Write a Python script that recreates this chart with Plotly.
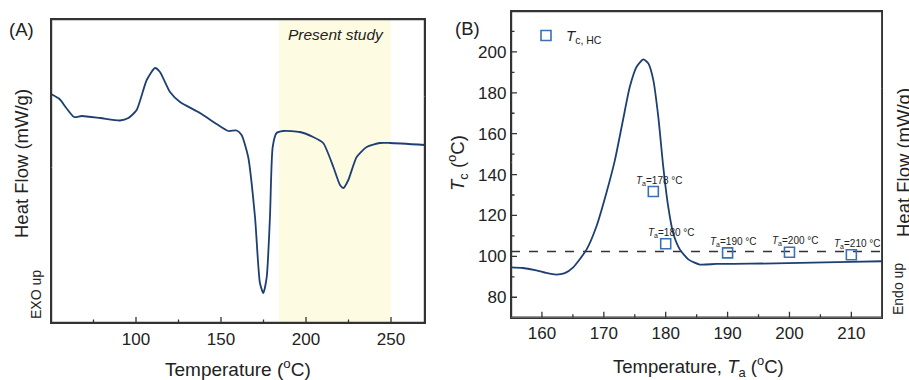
import plotly.graph_objects as go

# ---- Panel A: DSC curve (arbitrary heat-flow units, EXO up) ----
temp_a = [50, 55, 59, 63.6, 68, 79, 90.6, 95.5, 100.4, 106.3, 111.2, 114.1, 120, 125.9,
          137.6, 147.4, 154.3, 159.2, 162.1, 166, 170, 172.9, 174.9, 176.9, 178.8, 180.4,
          182.7, 186.6, 196.4, 204.2, 210.1, 216.1, 220, 222, 224.9, 229.8, 235.7, 243.5,
          249.4, 270]
hf_a = [4.58, 4.48, 4.30, 4.12, 4.14, 4.10, 4.05, 4.10, 4.26, 4.86, 5.10, 5.02, 4.62, 4.42,
        4.20, 3.98, 3.84, 3.85, 3.76, 3.32, 2.12, 0.80, 0.60, 0.92, 2.12, 3.52,
        3.80, 3.84, 3.82, 3.72, 3.60, 3.12, 2.76, 2.70, 2.86, 3.32, 3.52, 3.60,
        3.60, 3.56]
shade_range = [184, 250]
xa_major = [100, 150, 200, 250]
xa_minor = [75, 125, 175, 225]

# ---- Panel B: Tc,HC points and heat-flow curve ----
ta_pts = [178, 180, 190, 200, 210]
tc_pts = [131.7, 106.2, 101.7, 102.0, 100.8]
ta_labels = ["178", "180", "190", "200", "210"]
tc_ref = 102.4

temp_b = [155, 156.9, 159.1, 160.7, 162.3, 163.7, 165, 167.2, 168.8, 170.4, 171.8, 173.1,
          174.2, 175.3, 176.4, 177.2, 178.0, 178.8, 179.6, 180.4, 181.2, 182.3, 183.7,
          185.5, 188.2, 193.6, 201.7, 209.8, 215]
hf_b = [94.6, 94.3, 93.2, 91.9, 91.1, 91.8, 94.5, 103.3, 114.6, 130.9, 147.2, 166.7,
        182.9, 192.7, 196.3, 194.3, 186.2, 168.3, 143.9, 124.4, 111.4, 103.3, 98.4,
        96.0, 96.3, 96.4, 96.8, 97.3, 97.6]
xb_major = [160, 170, 180, 190, 200, 210]
xb_minor = [165, 175, 185, 195, 205]
yb_major = [80, 100, 120, 140, 160, 180, 200]
yb_minor = [90, 110, 130, 150, 170, 190, 210]

FONT = "Arial, Liberation Sans, sans-serif"
LINE = "#1d3f72"
SQ = "#3a70b5"
AX = "#333333"
W, H = 909, 380

XA_RANGE, YA_RANGE = [50, 270], [0, 6.08]
XB_RANGE, YB_RANGE = [155, 215], [70, 220]
A_DOM_X, A_DOM_Y = [51/W, 425/W], [1-323/H, 1-19/H]
B_DOM_X, B_DOM_Y = [511/W, 882.3/W], [1-317.7/H, 1-11/H]
SOLID = "600px,0.3px"

def upp(rng, dom, total):
    return (rng[1]-rng[0]) / ((dom[1]-dom[0]) * total)

fig = go.Figure()

# Panel A
fig.add_shape(type="rect", x0=shade_range[0], x1=shade_range[1], xref="x", yref="y domain",
              y0=0, y1=1, fillcolor="#fefbe3", line_width=0, layer="below")
fig.add_trace(go.Scatter(x=temp_a, y=hf_a, mode="lines", xaxis="x", yaxis="y",
                         line=dict(color=LINE, width=1.8, shape="spline", smoothing=0.6),
                         showlegend=False, hoverinfo="skip"))

# Panel B
fig.add_trace(go.Scatter(x=temp_b, y=hf_b, mode="lines", xaxis="x2", yaxis="y3",
                         line=dict(color=LINE, width=1.8, shape="spline", smoothing=0.6),
                         showlegend=False, hoverinfo="skip"))
fig.add_trace(go.Scatter(x=XB_RANGE, y=[tc_ref, tc_ref], mode="lines", xaxis="x2", yaxis="y2",
                         line=dict(color=AX, width=1.5, dash="dash"),
                         showlegend=False, hoverinfo="skip"))
fig.add_trace(go.Scatter(x=ta_pts, y=tc_pts, mode="markers", xaxis="x2", yaxis="y2",
                         marker=dict(symbol="square-open", size=10, color=SQ,
                                     line=dict(width=1.6, color=SQ)),
                         name="<i>T</i><sub>c, HC</sub>", showlegend=True))

# frames (axis box) drawn as line traces along the axis ranges
def frame(xa, ya, xr, yr):
    fig.add_trace(go.Scatter(x=[xr[0], xr[1], xr[1], xr[0], xr[0]],
                             y=[yr[0], yr[0], yr[1], yr[1], yr[0]],
                             mode="lines", xaxis=xa, yaxis=ya,
                             line=dict(color=AX, width=2.4, dash=SOLID), showlegend=False,
                             hoverinfo="skip"))

frame("x", "y", XA_RANGE, YA_RANGE)
frame("x2", "y2", XB_RANGE, YB_RANGE)

# inward tick marks
def xticks(vals, length, xa, ya, yrng, ydom):
    u = upp(yrng, ydom, H)
    xs, ys = [], []
    for v in vals:
        xs += [v, v, None]
        ys += [yrng[0], yrng[0] + u*length, None]
    fig.add_trace(go.Scatter(x=xs, y=ys, mode="lines", xaxis=xa, yaxis=ya,
                             showlegend=False, hoverinfo="skip",
                             line=dict(color=AX, width=1.3, dash=SOLID)))

def yticks(vals, length, xa, ya, xrng, xdom):
    u = upp(xrng, xdom, W)
    xs, ys = [], []
    for v in vals:
        xs += [xrng[0], xrng[0] + u*length, None]
        ys += [v, v, None]
    fig.add_trace(go.Scatter(x=xs, y=ys, mode="lines", xaxis=xa, yaxis=ya,
                             showlegend=False, hoverinfo="skip",
                             line=dict(color=AX, width=1.3, dash=SOLID)))

xticks(xa_major, 6, "x", "y", YA_RANGE, A_DOM_Y)
xticks(xa_minor, 3.5, "x", "y", YA_RANGE, A_DOM_Y)
xticks(xb_major, 6, "x2", "y2", YB_RANGE, B_DOM_Y)
xticks(xb_minor, 3.5, "x2", "y2", YB_RANGE, B_DOM_Y)
yticks(yb_major, 6, "x2", "y2", XB_RANGE, B_DOM_X)
yticks(yb_minor, 3.5, "x2", "y2", XB_RANGE, B_DOM_X)

axis_common = dict(showline=True, linecolor=AX, linewidth=1.3, mirror=True,
                   showgrid=False, zeroline=False, ticks="",
                   tickfont=dict(family=FONT, size=17, color="#222"))

fig.update_layout(
    width=W, height=H, margin=dict(l=0, r=0, t=0, b=0, pad=0),
    plot_bgcolor="white", paper_bgcolor="white",
    font=dict(family=FONT, color="#222"),
    xaxis=dict(domain=A_DOM_X, range=XA_RANGE, anchor="y",
               tickmode="array", tickvals=xa_major, **axis_common),
    yaxis=dict(domain=A_DOM_Y, range=YA_RANGE, anchor="x",
               showticklabels=False, **axis_common),
    xaxis2=dict(domain=B_DOM_X, range=XB_RANGE, anchor="y2",
                tickmode="array", tickvals=xb_major, **axis_common),
    yaxis2=dict(domain=B_DOM_Y, range=YB_RANGE, anchor="x2",
                tickmode="array", tickvals=yb_major, **axis_common),
    yaxis3=dict(overlaying="y2", side="right", range=YB_RANGE, anchor="x2",
                showticklabels=False, ticks="", showgrid=False, zeroline=False, showline=False),
    legend=dict(x=526/W, y=1-35.7/H, xanchor="left", yanchor="middle",
                font=dict(family=FONT, size=15, color="#222"), bgcolor="rgba(0,0,0,0)"),
)

ann = []
def A(text, x, y, size=16, angle=0, italic=False, **kw):
    t = f"<i>{text}</i>" if italic else text
    ann.append(dict(text=t, x=x, y=y, xref="paper", yref="paper", showarrow=False,
                    xanchor="center", yanchor="middle",
                    textangle=angle, font=dict(family=FONT, size=size, color="#222"), **kw))

# panel labels
A("(A)", 21/W, 1-29/H, size=18.5)
A("(B)", 467/W, 1-28/H, size=18.5)
# panel A titles
A("Present study", 336/W, 1-35/H, size=15.5, italic=True)
A("Temperature (<sup>o</sup>C)", 238/W, 1-368/H, size=19)
A("Heat Flow (mW/g)", 21/W, 1-164/H, size=18.5, angle=-90)
A("EXO up", 36/W, 1-295/H, size=14, angle=-90)
# panel B titles
A("Temperature, <i>T</i><sub>a</sub> (<sup>o</sup>C)", 698/W, 1-366/H, size=18.5)
A("<i>T</i><sub>c</sub> (<sup>o</sup>C)", 457/W, 1-163/H, size=18.5, angle=-90)
A("Heat Flow (mW/g)", 903/W, 1-163/H, size=18.5, angle=-90)
A("Endo up", 898/W, 1-289/H, size=14, angle=-90)
# point labels
for xv, yv, lab in zip(ta_pts, tc_pts, ta_labels):
    ann.append(dict(text=f"<i>T</i><sub>a</sub>={lab} °C", x=xv, y=yv, xref="x2", yref="y2",
                    showarrow=False, xshift=6, yshift=11,
                    font=dict(family=FONT, size=10, color="#222")))

fig.update_layout(annotations=ann)
fig.write_html("out.html", config={"displayModeBar": False},
               post_script="document.body.style.margin='0';document.body.style.overflow='hidden';")
